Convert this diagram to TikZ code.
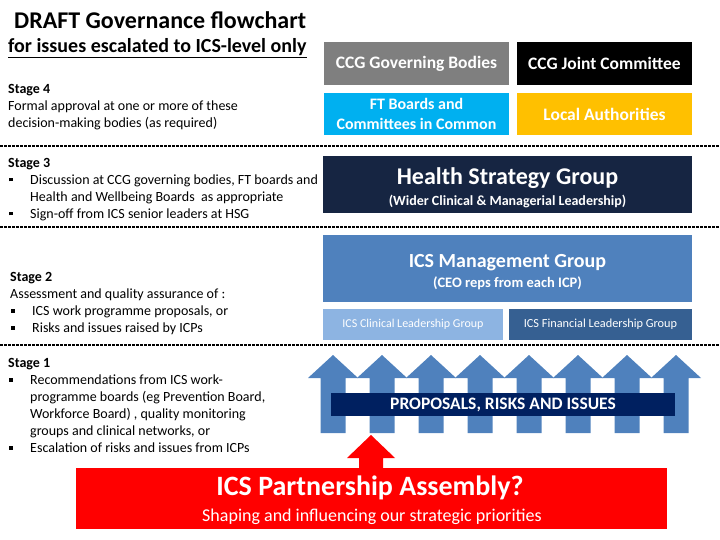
\documentclass[tikz,border=0pt]{standalone}
\usepackage{fontspec}
\setmainfont{Carlito}
\usepackage{xcolor}
\usepackage{tikz}
\usetikzlibrary{positioning}
\pgfdeclarelayer{nodelayer}
\pgfdeclarelayer{edgelayer}
\pgfsetlayers{edgelayer,nodelayer,main}

\definecolor{govgray}{RGB}{127,127,127}
\definecolor{ftcyan}{RGB}{0,176,240}
\definecolor{lagold}{RGB}{255,192,0}
\definecolor{hsgnavy}{RGB}{22,37,66}
\definecolor{icsblue}{RGB}{79,129,189}
\definecolor{clinblue}{RGB}{141,180,226}
\definecolor{finblue}{RGB}{54,96,146}
\definecolor{propnavy}{RGB}{0,32,96}
\definecolor{assemblyred}{RGB}{255,0,0}

\newcommand{\bul}{\makebox[22pt][l]{\hspace{1pt}\rule[3pt]{3.5pt}{3.5pt}}}
\newcommand{\ind}{\hspace*{22pt}}
\newcommand{\fs}[2]{\fontsize{#1}{#2}\selectfont}

\tikzset{
  bodybox/.style={inner sep=0pt, text=white, align=center},
  stagetext/.style={inner sep=0pt, align=left, anchor=base west, font=\fs{14}{17}},
  separator/.style={line width=1.6pt, dash pattern=on 3pt off 1pt},
  blockarrow/.style={fill=icsblue},
}

\begin{document}
\begin{tikzpicture}[x=1pt, y=-1pt]
  \useasboundingbox (0,0) rectangle (720,540);
  \begin{pgfonlayer}{edgelayer}
    \draw [separator] (0,146) -- (720,146);
    \draw [separator] (0,227) -- (720,227);
    \draw [separator] (0,345) -- (720,345);
    % upward arrows
    \foreach \x in {333,382,...,676}
      \fill [blockarrow] (\x-12.5,433) -- (\x-12.5,378) -- (\x-25,378) -- (\x,355)
        -- (\x+25,378) -- (\x+12.5,378) -- (\x+12.5,433) -- cycle;
    \fill [assemblyred] (359,470) -- (359,458) -- (347,458) -- (371,435)
      -- (395,458) -- (383,458) -- (383,470) -- cycle;
  \end{pgfonlayer}
  \begin{pgfonlayer}{nodelayer}
    \node [inner sep=0pt, anchor=base west, font=\fs{24}{28}\bfseries] (0) at (14,28.5) {DRAFT Governance flowchart};
    \node [inner sep=0pt, anchor=base west, font=\fs{20}{24}\bfseries] (1) at (8,53) {\underline{for issues escalated to ICS-level only}};

    % base anchor sits on the last line
    \node [stagetext] (2) at (8,127.5) {\textbf{Stage 4}\\
      Formal approval at one or more of these\\
      decision-making bodies (as required)};
    \node [stagetext] (3) at (8,218.5) {\textbf{Stage 3}\\
      \bul Discussion at CCG governing bodies, FT boards and\\
      \ind Health and Wellbeing Boards\ \ as appropriate\\
      \bul Sign-off from ICS senior leaders at HSG};
    \node [stagetext] (4) at (10,332.5) {\textbf{Stage 2}\\
      Assessment and quality assurance of :\\
      \bul ICS work programme proposals, or\\
      \bul Risks and issues raised by ICPs};
    \node [stagetext] (5) at (8,452.5) {\textbf{Stage 1}\\
      \bul Recommendations from ICS work-\\
      \ind programme boards (eg Prevention Board,\\
      \ind Workforce Board) , quality monitoring\\
      \ind groups and clinical networks, or\\
      \bul Escalation of risks and issues from ICPs};

    \node [bodybox, fill=govgray, minimum width=185pt, minimum height=43pt, font=\fs{17.5}{20}\bfseries] (6) at (416.5,63.5) {CCG Governing Bodies};
    \node [bodybox, fill=black, minimum width=175pt, minimum height=43pt, font=\fs{17.5}{20}\bfseries] (7) at (604.5,63.5) {CCG Joint Committee};
    \node [bodybox, fill=ftcyan, minimum width=185pt, minimum height=42pt, font=\fs{16}{20}\bfseries] (8) at (416.5,114) {FT Boards and\\Committees in Common};
    \node [bodybox, fill=lagold, minimum width=175pt, minimum height=42pt, font=\fs{17.5}{20}\bfseries] (9) at (604.5,114) {Local Authorities};

    \node [fill=hsgnavy, minimum width=369pt, minimum height=57pt] (10) at (507.5,184.5) {};
    \node [bodybox, font=\fs{14}{21}] (11) at (507.5,188)
      {{\fs{24}{21}\bfseries Health Strategy Group}\\{\bfseries (Wider Clinical \& Managerial Leadership)}};
    \node [fill=icsblue, minimum width=369pt, minimum height=67pt] (12) at (507.5,268.5) {};
    \node [bodybox, font=\fs{14.5}{20}] (13) at (507.5,272)
      {{\fs{20}{20}\bfseries ICS Management Group}\\{\bfseries (CEO reps from each ICP)}};
    \node [bodybox, fill=clinblue, minimum width=180pt, minimum height=31pt, font=\fs{12}{14}] (14) at (413,324.5) {ICS Clinical Leadership Group};
    \node [bodybox, fill=finblue, minimum width=183pt, minimum height=31pt, font=\fs{12.3}{14}] (15) at (600.5,324.5) {ICS Financial Leadership Group};

    \node [bodybox, fill=propnavy, minimum width=344pt, minimum height=23pt, font=\fs{17.5}{20}\bfseries] (16) at (503,404.5) {PROPOSALS, RISKS AND ISSUES};

    \node [fill=assemblyred, inner sep=0pt, minimum width=591pt, minimum height=61pt] (17) at (371.5,498.5) {};
    \node [bodybox, font=\fs{28}{30}\bfseries] (18) at (370,488) {ICS Partnership Assembly?};
    \node [bodybox, font=\fs{18}{20}] (19) at (372,517) {Shaping and influencing our strategic priorities};
  \end{pgfonlayer}
\end{tikzpicture}
\end{document}
